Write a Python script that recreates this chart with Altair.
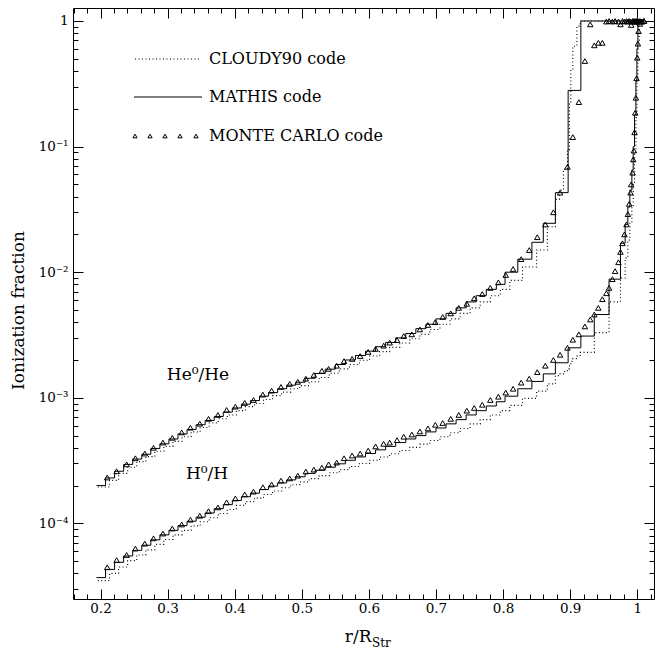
import altair as alt
import pandas as pd

# ---------------- data ----------------
# Monte Carlo grid and ionization fractions (triangles)
r_mc = [
    0.210, 0.224, 0.239, 0.252, 0.266, 0.279, 0.293, 0.307, 0.321, 0.334,
    0.348, 0.361, 0.375, 0.388, 0.401, 0.415, 0.428, 0.442, 0.455, 0.469,
    0.482, 0.494, 0.506, 0.518, 0.530, 0.540, 0.552, 0.563, 0.575, 0.587,
    0.599, 0.610, 0.622, 0.631, 0.642, 0.652, 0.664, 0.676, 0.688, 0.699,
    0.710, 0.722, 0.734, 0.746, 0.757, 0.769, 0.781, 0.793, 0.804, 0.815,
    0.827, 0.839, 0.851, 0.863, 0.875, 0.885, 0.896, 0.904, 0.913, 0.922,
    0.930, 0.936, 0.942, 0.948, 0.954, 0.958, 0.963, 0.967, 0.972, 0.975,
    0.978, 0.981, 0.984, 0.986, 0.988, 0.990, 0.991, 0.993, 0.994, 0.995,
    0.996, 0.997, 0.998, 0.999, 1.000, 1.001, 1.002, 1.004, 1.007, 1.010,
]
he_mc = [
    2.32e-4, 2.6e-4, 2.95e-4, 3.3e-4, 3.6e-4, 4.0e-4, 4.4e-4, 4.8e-4, 5.3e-4, 5.78e-4,
    6.22e-4, 6.8e-4, 7.3e-4, 8.0e-4, 8.5e-4, 9.1e-4, 9.6e-4, 1.06e-3, 1.14e-3, 1.22e-3,
    1.29e-3, 1.34e-3, 1.42e-3, 1.52e-3, 1.64e-3, 1.70e-3, 1.80e-3, 1.96e-3, 2.04e-3, 2.15e-3,
    2.32e-3, 2.45e-3, 2.6e-3, 2.75e-3, 2.88e-3, 3.1e-3, 3.2e-3, 3.5e-3, 3.8e-3, 4.0e-3,
    4.4e-3, 4.7e-3, 5.2e-3, 5.6e-3, 6.2e-3, 6.7e-3, 7.5e-3, 8.3e-3, 9.5e-3, 1.06e-2,
    1.27e-2, 1.5e-2, 1.9e-2, 2.4e-2, 3.0e-2, 4.3e-2, 6.9e-2, 0.119, 0.226, 0.48,
    0.94, 0.64, 0.67, 0.67, 0.99, 1.0, 0.99, 1.0, 0.99, 0.94,
    1.0, 0.99, 1.0, 0.99, 1.0, 0.99, 0.93, 1.0, 0.99, 1.0,
    0.99, 1.0, 0.99, 1.0, 0.99, 1.0, 0.99, 1.0, 0.99, 1.0,
]
h_mc = [
    4.47e-5, 5.1e-5, 5.6e-5, 6.3e-5, 6.9e-5, 7.6e-5, 8.3e-5, 9.1e-5, 9.8e-5, 1.07e-4,
    1.15e-4, 1.25e-4, 1.34e-4, 1.47e-4, 1.58e-4, 1.70e-4, 1.79e-4, 1.94e-4, 2.04e-4, 2.19e-4,
    2.28e-4, 2.40e-4, 2.59e-4, 2.68e-4, 2.78e-4, 2.95e-4, 3.05e-4, 3.3e-4, 3.47e-4, 3.6e-4,
    3.8e-4, 4.1e-4, 4.3e-4, 4.4e-4, 4.6e-4, 4.9e-4, 5.1e-4, 5.4e-4, 5.7e-4, 6.1e-4,
    6.3e-4, 6.8e-4, 7.3e-4, 7.9e-4, 8.3e-4, 8.8e-4, 9.6e-4, 1.02e-3, 1.1e-3, 1.18e-3,
    1.32e-3, 1.42e-3, 1.6e-3, 1.8e-3, 2.0e-3, 2.2e-3, 2.5e-3, 2.9e-3, 3.2e-3, 3.7e-3,
    4.2e-3, 4.6e-3, 5.2e-3, 6.1e-3, 6.8e-3, 7.5e-3, 8.8e-3, 1.02e-2, 1.2e-2, 1.45e-2,
    1.7e-2, 2.0e-2, 2.4e-2, 2.9e-2, 3.5e-2, 4.3e-2, 5.0e-2, 6.2e-2, 7.9e-2, 9.3e-2,
    0.13, 0.186, 0.245, 0.35, 0.51, 0.66, 0.83, 0.95, 0.99, 1.0,
]

# MATHIS code: step edges and level values
r_mathis = [
    0.194, 0.2075, 0.221, 0.2345, 0.248, 0.2615, 0.275, 0.2885, 0.302, 0.3155,
    0.329, 0.3425, 0.356, 0.3695, 0.383, 0.3965, 0.410, 0.4235, 0.437, 0.4505,
    0.464, 0.4775, 0.491, 0.505, 0.520, 0.535, 0.550, 0.565, 0.580, 0.595,
    0.610, 0.625, 0.640, 0.655, 0.670, 0.685, 0.700, 0.715, 0.730, 0.745,
    0.760, 0.775, 0.790, 0.803, 0.822, 0.843, 0.860, 0.878, 0.897, 0.916,
    0.936, 0.958, 0.975, 0.982, 0.986, 0.989, 0.992, 0.994, 0.996, 0.998,
    0.9995, 1.001, 1.010,
]
he_mathis = [
    2.0e-4, 2.3e-4, 2.6e-4, 2.95e-4, 3.25e-4, 3.55e-4, 3.95e-4, 4.3e-4, 4.7e-4, 5.15e-4,
    5.6e-4, 6.1e-4, 6.6e-4, 7.1e-4, 7.7e-4, 8.3e-4, 8.9e-4, 9.5e-4, 1.03e-3, 1.1e-3,
    1.18e-3, 1.26e-3, 1.33e-3, 1.43e-3, 1.56e-3, 1.69e-3, 1.84e-3, 2.0e-3, 2.17e-3, 2.35e-3,
    2.55e-3, 2.76e-3, 3.0e-3, 3.25e-3, 3.55e-3, 3.85e-3, 4.25e-3, 4.7e-3, 5.2e-3, 5.8e-3,
    6.5e-3, 7.3e-3, 8.0e-3, 1.0e-2, 1.27e-2, 1.73e-2, 2.45e-2, 4.3e-2, 0.28, 1.0,
    1.0, 1.0, 1.0, 1.0, 1.0, 1.0, 1.0, 1.0, 1.0, 1.0,
    1.0, 1.0, 1.0,
]
h_mathis = [
    3.7e-5, 4.3e-5, 4.9e-5, 5.5e-5, 6.1e-5, 6.7e-5, 7.4e-5, 8.1e-5, 8.8e-5, 9.6e-5,
    1.04e-4, 1.12e-4, 1.21e-4, 1.31e-4, 1.41e-4, 1.52e-4, 1.63e-4, 1.74e-4, 1.86e-4, 1.98e-4,
    2.1e-4, 2.22e-4, 2.35e-4, 2.5e-4, 2.65e-4, 2.8e-4, 2.98e-4, 3.18e-4, 3.38e-4, 3.6e-4,
    3.85e-4, 4.1e-4, 4.4e-4, 4.7e-4, 5.0e-4, 5.35e-4, 5.75e-4, 6.2e-4, 6.7e-4, 7.3e-4,
    7.9e-4, 8.6e-4, 9.3e-4, 1.03e-3, 1.18e-3, 1.35e-3, 1.55e-3, 1.9e-3, 2.5e-3, 3.1e-3,
    4.6e-3, 8.8e-3, 1.7e-2, 2.4e-2, 3.3e-2, 4.5e-2, 6.5e-2, 0.10, 0.18, 0.33,
    0.6, 1.0, 1.0,
]

# CLOUDY90 code: step edges and level values
r_cloudy = [
    0.196, 0.2135, 0.227, 0.2405, 0.254, 0.2675, 0.281, 0.2945, 0.308, 0.3215,
    0.335, 0.3485, 0.362, 0.3755, 0.389, 0.4025, 0.416, 0.4295, 0.443, 0.4565,
    0.470, 0.4835, 0.497, 0.511, 0.526, 0.541, 0.556, 0.571, 0.586, 0.601,
    0.616, 0.631, 0.646, 0.661, 0.676, 0.691, 0.706, 0.721, 0.736, 0.751,
    0.766, 0.781, 0.796, 0.810, 0.829, 0.850, 0.866, 0.878, 0.884, 0.890,
    0.896, 0.899, 0.901, 0.904, 0.910, 0.915, 0.936, 0.958, 0.975, 0.982,
    0.986, 0.989, 0.992, 0.994, 0.996, 0.998, 0.9995, 1.001, 1.003, 1.010,
]
he_cloudy = [
    1.95e-4, 2.2e-4, 2.5e-4, 2.8e-4, 3.1e-4, 3.4e-4, 3.75e-4, 4.1e-4, 4.5e-4, 4.9e-4,
    5.35e-4, 5.8e-4, 6.3e-4, 6.8e-4, 7.3e-4, 7.9e-4, 8.5e-4, 9.0e-4, 9.7e-4, 1.04e-3,
    1.11e-3, 1.18e-3, 1.25e-3, 1.34e-3, 1.45e-3, 1.57e-3, 1.7e-3, 1.84e-3, 1.99e-3, 2.15e-3,
    2.33e-3, 2.52e-3, 2.73e-3, 2.95e-3, 3.2e-3, 3.5e-3, 3.85e-3, 4.25e-3, 4.7e-3, 5.2e-3,
    5.8e-3, 6.5e-3, 7.3e-3, 8.6e-3, 1.1e-2, 1.5e-2, 2.3e-2, 3.8e-2, 4.5e-2, 6.6e-2,
    9.5e-2, 0.22, 0.41, 0.63, 0.91, 1.0, 1.0, 1.0, 1.0, 1.0,
    1.0, 1.0, 1.0, 1.0, 1.0, 1.0, 1.0, 1.0, 1.0, 1.0,
]
h_cloudy = [
    3.5e-5, 4.0e-5, 4.5e-5, 5.05e-5, 5.6e-5, 6.15e-5, 6.8e-5, 7.45e-5, 8.1e-5, 8.8e-5,
    9.55e-5, 1.03e-4, 1.11e-4, 1.2e-4, 1.29e-4, 1.39e-4, 1.49e-4, 1.59e-4, 1.7e-4, 1.81e-4,
    1.92e-4, 2.03e-4, 2.14e-4, 2.27e-4, 2.4e-4, 2.53e-4, 2.68e-4, 2.84e-4, 3.0e-4, 3.18e-4,
    3.38e-4, 3.58e-4, 3.8e-4, 4.03e-4, 4.28e-4, 4.57e-4, 4.9e-4, 5.27e-4, 5.7e-4, 6.2e-4,
    6.7e-4, 7.3e-4, 7.9e-4, 8.7e-4, 9.9e-4, 1.13e-3, 1.29e-3, 1.5e-3, 1.55e-3, 1.62e-3,
    1.7e-3, 1.85e-3, 1.95e-3, 2.05e-3, 2.15e-3, 2.3e-3, 3.3e-3, 5.8e-3, 9.0e-3, 1.3e-2,
    1.8e-2, 2.5e-2, 3.4e-2, 5.2e-2, 9.0e-2, 0.17, 0.35, 0.7, 1.0, 1.0,
]

# axis ticks
X_DOMAIN = [0.159, 1.025]
Y_DOMAIN = [2.5e-5, 1.269]
x_ticks = [round(0.16 + 0.02 * i, 2) for i in range(44)]
x_ticks = [v for v in x_ticks if X_DOMAIN[0] <= v <= X_DOMAIN[1]]
y_ticks = [float(f"{m}e{e}") for e in range(-5, 1) for m in range(1, 10)]
y_ticks = [v for v in y_ticks if Y_DOMAIN[0] <= v <= Y_DOMAIN[1]]

# ---------------- layout ----------------
W, H = 581, 591
FONT = "DejaVu Serif"

def long_df(r, he, h):
    return pd.DataFrame({
        "r": list(r) + list(r),
        "frac": list(he) + list(h),
        "ion": ["He"] * len(r) + ["H"] * len(r),
    })

mathis_df = long_df(r_mathis, he_mathis, h_mathis)
cloudy_df = long_df(r_cloudy, he_cloudy, h_cloudy)
mc_df = long_df(r_mc, he_mc, h_mc)

x_scale = alt.Scale(domain=X_DOMAIN, nice=False, zero=False)
y_scale = alt.Scale(type="log", domain=Y_DOMAIN, nice=False)

XMAJ = "abs(datum.value * 10 - round(datum.value * 10)) < 0.001"
YMAJ = "abs(log(datum.value) / LN10 - round(log(datum.value) / LN10)) < 0.001"
x_tick_size = {"condition": {"test": XMAJ, "value": 10}, "value": 5}
y_tick_size = {"condition": {"test": YMAJ, "value": 10}, "value": 5}

x_label_expr = (f"({XMAJ}) ? (datum.value > 0.999 ? '1' : format(datum.value, '.1f')) : ''")
y_label_expr = (f"({YMAJ}) ? (datum.value > 0.5 ? '1' : datum.value > 0.05 ? '10⁻¹' : "
                "datum.value > 0.005 ? '10⁻²' : datum.value > 0.0005 ? '10⁻³' : '10⁻⁴') : ''")

common = dict(tickColor="black", tickWidth=1, domain=False, grid=False,
              labelFont=FONT, labelFontSize=13.5, labelColor="black",
              labelFlush=False, labelOverlap=False)

axis_x_main = alt.Axis(orient="bottom", offset=-H, values=x_ticks, tickSize=x_tick_size,
                       labelExpr=x_label_expr, labelPadding=583, title=None, **common)
axis_x_other = alt.Axis(orient="top", offset=-H, values=x_ticks, tickSize=x_tick_size,
                        labels=False, title=None, **common)
axis_y_main = alt.Axis(orient="left", offset=-W, values=y_ticks, tickSize=y_tick_size,
                       labelExpr=y_label_expr, labelPadding=W + 5 - 10,
                       title="Ionization fraction", titleX=-55 - W, titleY=302,
                       titleAngle=270, titleAlign="center", titleBaseline="middle",
                       titleFont=FONT, titleFontSize=17, titleFontWeight="normal",
                       titleColor="black", **common)
axis_y_other = alt.Axis(orient="right", offset=-W, values=y_ticks, tickSize=y_tick_size,
                        labels=False, title=None, **common)

mathis = alt.Chart(mathis_df).mark_line(
    interpolate="step-after", color="black", strokeWidth=1, clip=True
).encode(
    x=alt.X("r:Q", scale=x_scale, axis=axis_x_main),
    y=alt.Y("frac:Q", scale=y_scale, axis=axis_y_main),
    detail="ion:N",
)

cloudy = alt.Chart(cloudy_df).mark_line(
    interpolate="step-after", color="black", strokeWidth=1.1, strokeDash=[1, 2.5], clip=True
).encode(
    x=alt.X("r:Q", scale=x_scale, axis=axis_x_other),
    y=alt.Y("frac:Q", scale=y_scale, axis=axis_y_other),
    detail="ion:N",
)

mc = alt.Chart(mc_df).mark_point(
    shape="triangle-up", filled=False, size=30, color="black", strokeWidth=1, opacity=1, clip=True
).encode(
    x=alt.X("r:Q", scale=x_scale, axis=None),
    y=alt.Y("frac:Q", scale=y_scale, axis=None),
)

one = alt.Data(values=[{}])

def text(t, x, y, size=16, align="left"):
    return alt.Chart(one).mark_text(
        font=FONT, fontSize=size, color="black", align=align, baseline="middle"
    ).encode(x=alt.value(x), y=alt.value(y), text=alt.value(t))

layers = [mathis, cloudy, mc]

# legend
layers.append(alt.Chart(one).mark_rule(color="black", strokeWidth=1.1, strokeDash=[1, 2.5]).encode(
    x=alt.value(62), x2=alt.value(127), y=alt.value(51)))
layers.append(text("CLOUDY90 code", 136, 51))
layers.append(alt.Chart(one).mark_rule(color="black", strokeWidth=1).encode(
    x=alt.value(61), x2=alt.value(129), y=alt.value(89)))
layers.append(text("MATHIS code", 136, 89))
for lx in [62, 77, 92, 107, 123]:
    layers.append(alt.Chart(one).mark_point(
        shape="triangle-up", filled=False, size=18, color="black", strokeWidth=1, opacity=1
    ).encode(x=alt.value(lx), y=alt.value(128)))
layers.append(text("MONTE CARLO code", 136, 128))

# curve labels
layers.append(text("He⁰/He", 125, 367, size=17, align="center"))
layers.append(text("H⁰/H", 134, 466, size=17, align="center"))

# x title with subscript
layers.append(text("r/R", 298.5, 629, size=17, align="right"))
layers.append(text("Str", 299, 635, size=12, align="left"))

chart = alt.layer(*layers).properties(
    width=W, height=H,
    autosize=alt.AutoSizeParams(type="none"),
    padding={"left": 65, "top": 0, "right": 1, "bottom": 50},
).configure_view(stroke="black", strokeWidth=1)

chart.save("out.html", embed_options={"renderer": "svg", "actions": False})
